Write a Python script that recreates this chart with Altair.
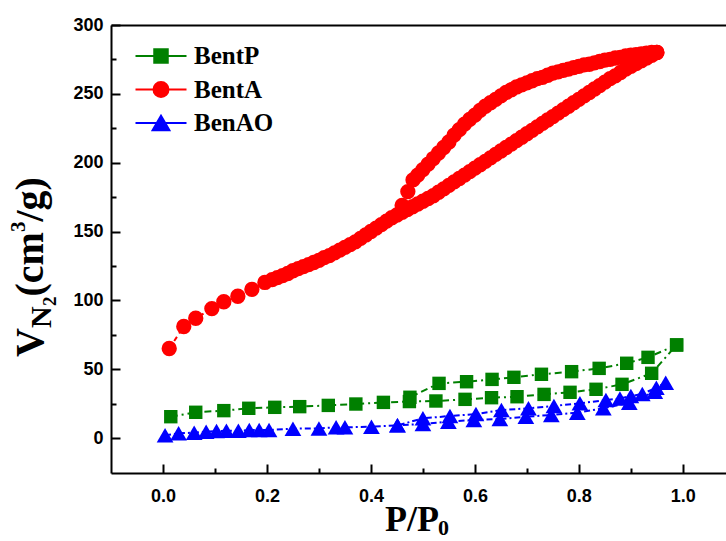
import altair as alt
import pandas as pd

# ---------------- data ----------------
series_names = ["BentP", "BentA", "BenAO"]
series_colors = ["#008000", "#ff0000", "#0000ff"]

bentp_ads_x = [0.015, 0.063, 0.117, 0.165, 0.215, 0.263, 0.318, 0.371, 0.424, 0.474,
               0.525, 0.581, 0.632, 0.681, 0.733, 0.783, 0.833, 0.883, 0.940, 0.988]
bentp_ads_y = [15.5, 18.7, 19.9, 21.6, 22.3, 22.8, 23.7, 24.7, 25.9, 26.5,
               26.9, 28.1, 29.3, 30.0, 31.7, 33.2, 35.4, 39.0, 47.0, 67.6]
bentp_des_x = [0.988, 0.933, 0.892, 0.839, 0.786, 0.728, 0.675, 0.633, 0.584, 0.531, 0.475]
bentp_des_y = [67.6, 58.6, 54.3, 50.6, 48.2, 46.3, 44.1, 42.6, 40.9, 39.7, 29.6]

benta_ads_x = [0.012, 0.040, 0.063, 0.094, 0.117, 0.144, 0.171, 0.196,
               0.21, 0.22, 0.23, 0.24, 0.25, 0.26, 0.27, 0.28, 0.29, 0.30,
               0.31, 0.32, 0.33, 0.34, 0.35, 0.36, 0.37, 0.38, 0.39, 0.40,
               0.41, 0.42, 0.43, 0.44, 0.45, 0.46, 0.47, 0.48, 0.49, 0.50,
               0.51, 0.52, 0.53, 0.54, 0.55, 0.56, 0.57, 0.58, 0.59, 0.60,
               0.61, 0.62, 0.63, 0.64, 0.65, 0.66, 0.67, 0.68, 0.69, 0.70,
               0.71, 0.72, 0.73, 0.74, 0.75, 0.76, 0.77, 0.78, 0.79, 0.80,
               0.81, 0.82, 0.83, 0.84, 0.85, 0.86, 0.87, 0.88, 0.89, 0.90,
               0.91, 0.92, 0.93, 0.94, 0.95]
benta_ads_y = [65, 81, 87, 94, 99, 103, 108, 113,
               115, 116.5, 118, 119.5, 121.5, 123, 124.5, 126, 127.5, 129,
               131, 132.5, 134.5, 136.5, 138.5, 140.5, 142.5, 145, 147.5, 150,
               152.5, 155, 157.5, 160, 162, 164, 166, 168, 170, 172,
               174, 176, 178.5, 181, 183.5, 186, 188.5, 191, 193.5, 196,
               198.5, 201, 203.5, 206, 208.5, 211, 213.5, 216, 218.5, 221,
               223.5, 226, 228.5, 231, 233.5, 236, 238.5, 241, 243.5, 246,
               248.5, 251, 253.5, 256, 258.5, 261, 263, 265.5, 268, 270,
               272, 274, 276, 278, 280]
benta_des_x = [0.95, 0.94, 0.93, 0.92, 0.91, 0.90, 0.89, 0.88, 0.87, 0.86,
               0.85, 0.84, 0.83, 0.82, 0.81, 0.80, 0.79, 0.78, 0.77, 0.76,
               0.75, 0.74, 0.73, 0.72, 0.71, 0.70, 0.69, 0.68, 0.67, 0.66,
               0.65, 0.64, 0.63, 0.62, 0.61, 0.60, 0.59, 0.58, 0.57, 0.56,
               0.55, 0.54, 0.53, 0.52, 0.51, 0.50, 0.49, 0.481, 0.471, 0.46]
benta_des_y = [280, 280, 279.5, 279, 278.5, 278, 277.5, 276.5, 276, 275,
               274.5, 273.5, 272.5, 271.5, 271, 270, 269, 268, 267, 266,
               265, 263.5, 262, 261, 259.5, 258, 256.5, 255, 253, 251,
               248.5, 246, 243.5, 241, 238, 234.5, 231.5, 228, 224, 220,
               215, 211, 207, 203, 199, 195, 191, 187.5, 179, 169]

benao_ads_x = [0.004, 0.030, 0.060, 0.083, 0.103, 0.122, 0.145, 0.166, 0.185, 0.204,
               0.250, 0.300, 0.333, 0.350, 0.401, 0.451, 0.500, 0.549, 0.598, 0.648,
               0.698, 0.747, 0.797, 0.847, 0.897, 0.946]
benao_ads_y = [2.0, 3.4, 3.9, 4.6, 5.1, 5.3, 5.3, 5.8, 5.8, 5.8,
               6.8, 7.0, 7.8, 7.8, 8.2, 9.2, 10.2, 11.9, 13.1, 13.8,
               15.5, 16.7, 18.4, 21.6, 25.7, 33.7]
benao_des_x = [0.967, 0.949, 0.922, 0.900, 0.879, 0.852, 0.802, 0.752, 0.703, 0.651,
               0.602, 0.552, 0.500, 0.451]
benao_des_y = [40.2, 36.6, 32.0, 30.5, 28.8, 27.6, 25.2, 23.3, 21.6, 20.3,
               17.4, 16.0, 14.3, 9.2]

x_major = [0.0, 0.2, 0.4, 0.6, 0.8, 1.0]
x_minor = [0.1, 0.3, 0.5, 0.7, 0.9]
y_major = [0, 50, 100, 150, 200, 250, 300]
y_minor = [25, 75, 125, 175, 225, 275]

y_title_parts = ["V", "N", "2", "(cm", "3", "/g)"]
x_title_parts = ["P/P", "0"]

# legend symbols: a line with the marker in the middle
legend_paths = [
    "M-1.7,0H1.7M-0.45,-0.45H0.45V0.45H-0.45Z",
    "M-1.7,0H1.7M-0.5,0A0.5,0.5,0,1,1,0.5,0A0.5,0.5,0,1,1,-0.5,0Z",
    "M-1.7,0H1.7M0,-0.48L0.56,0.48L-0.56,0.48Z",
]

# ---------------- tables ----------------
def frame(name, branch, xs, ys):
    return pd.DataFrame({"series": name, "branch": branch,
                         "order": list(range(len(xs))), "x": xs, "y": ys})

bentp = pd.concat([frame("BentP", "ads", bentp_ads_x, bentp_ads_y),
                   frame("BentP", "des", bentp_des_x, bentp_des_y)])
benta = pd.concat([frame("BentA", "ads", benta_ads_x, benta_ads_y),
                   frame("BentA", "des", benta_des_x, benta_des_y)])
benao = pd.concat([frame("BenAO", "ads", benao_ads_x, benao_ads_y),
                   frame("BenAO", "des", benao_des_x, benao_des_y)])
all_df = pd.concat([bentp, benta, benao])

W, H = 615, 448
xsc = alt.Scale(domain=[-0.1, 1.083], nice=False, zero=False)
ysc = alt.Scale(domain=[-25.4, 300], nice=False, zero=False)

label_style = dict(labelFont="Liberation Sans", labelFontSize=18, labelFontWeight="bold",
                   labelColor="black", grid=False, title=None, labelFlush=False,
                   labelOverlap=False)

x_label_axis = alt.Axis(orient="bottom", values=x_major, format=".1f", ticks=False,
                        tickSize=0, labelPadding=14, domain=True, domainColor="black",
                        domainWidth=2, **label_style)
y_label_axis = alt.Axis(orient="left", values=y_major, format="d", ticks=False,
                        tickSize=0, labelPadding=8, domain=True, domainColor="black",
                        domainWidth=2, **label_style)
x_tick_axis = alt.Axis(orient="top", offset=-H, values=x_major + x_minor, labels=False,
                       domain=False, grid=False, title=None, ticks=True,
                       tickColor="black", tickWidth=2,
                       tickSize={"condition": {"test": "indexof(%s, datum.value) >= 0" % x_major,
                                               "value": 9}, "value": 5})
y_tick_axis = alt.Axis(orient="right", offset=-W, values=y_major + y_minor, labels=False,
                       domain=False, grid=False, title=None, ticks=True,
                       tickColor="black", tickWidth=2,
                       tickSize={"condition": {"test": "indexof(%s, datum.value) >= 0" % y_major,
                                               "value": 9}, "value": 5})
x_top_axis = alt.Axis(orient="top", values=[], labels=False, ticks=False, tickSize=0,
                      domain=True, domainColor="black", domainWidth=2, grid=False, title=None)


def line_layer(df, color, dash):
    return alt.Chart(df).mark_line(color=color, strokeWidth=2, strokeDash=dash).encode(
        x=alt.X("x:Q", scale=xsc, axis=None),
        y=alt.Y("y:Q", scale=ysc, axis=None),
        detail="branch:N",
        order="order:Q",
    )


def point_layer(df, color, shape, size, xaxis, yaxis):
    return alt.Chart(df).mark_point(filled=True, shape=shape, size=size, color=color,
                                    opacity=1).encode(
        x=alt.X("x:Q", scale=xsc, axis=xaxis),
        y=alt.Y("y:Q", scale=ysc, axis=yaxis),
    )


leg = alt.Legend(orient="none", legendX=34, legendY=15, title=None,
                 labelFont="Liberation Serif", labelFontSize=25, labelFontWeight="bold",
                 labelColor="black", symbolSize=900, symbolStrokeWidth=2,
                 labelOffset=17, rowPadding=4.5, symbolOpacity=1)

legend_layer = alt.Chart(all_df).mark_point(filled=True, opacity=0, strokeWidth=2).encode(
    x=alt.X("x:Q", scale=xsc, axis=None),
    y=alt.Y("y:Q", scale=ysc, axis=None),
    fill=alt.Fill("series:N", scale=alt.Scale(domain=series_names, range=series_colors), legend=leg),
    stroke=alt.Stroke("series:N", scale=alt.Scale(domain=series_names, range=series_colors), legend=leg),
    shape=alt.Shape("series:N", scale=alt.Scale(domain=series_names, range=legend_paths), legend=leg),
)


def text_layer(txt, size, x, y, angle=0):
    return alt.Chart(pd.DataFrame({"t": [txt]})).mark_text(
        font="Liberation Serif", fontSize=size, fontWeight="bold", align="left",
        baseline="alphabetic", angle=angle, color="black").encode(
        x=alt.value(x), y=alt.value(y), text="t:N")


titles = [
    text_layer(y_title_parts[0], 40, -68, 332, 270),
    text_layer(y_title_parts[1], 30, -60, 303, 270),
    text_layer(y_title_parts[2], 19, -55, 281, 270),
    text_layer(y_title_parts[3], 40, -68, 271.5, 270),
    text_layer(y_title_parts[4], 21, -86, 207, 270),
    text_layer(y_title_parts[5], 40, -68, 196.5, 270),
    text_layer(x_title_parts[0], 36, 274, 506),
    text_layer(x_title_parts[1], 22, 327, 510),
]

chart = alt.layer(
    line_layer(bentp, series_colors[0], [7, 4, 2, 4]),
    point_layer(bentp, series_colors[0], "square", 180, x_label_axis, y_label_axis),
    line_layer(benta, series_colors[1], [5, 4]),
    point_layer(benta, series_colors[1], "circle", 235, x_tick_axis, y_tick_axis),
    line_layer(benao, series_colors[2], [6, 3, 2, 3]),
    point_layer(benao, series_colors[2], "triangle-up", 280, x_top_axis, None),
    legend_layer,
    *titles,
).resolve_axis(x="independent", y="independent").properties(
    width=W, height=H,
    padding={"left": 111, "top": 25, "right": 0, "bottom": 68},
    autosize=alt.AutoSizeParams(type="none"),
    background="white",
).configure_view(stroke=None)

chart.save("out.html", embed_options={"renderer": "svg", "actions": False})
